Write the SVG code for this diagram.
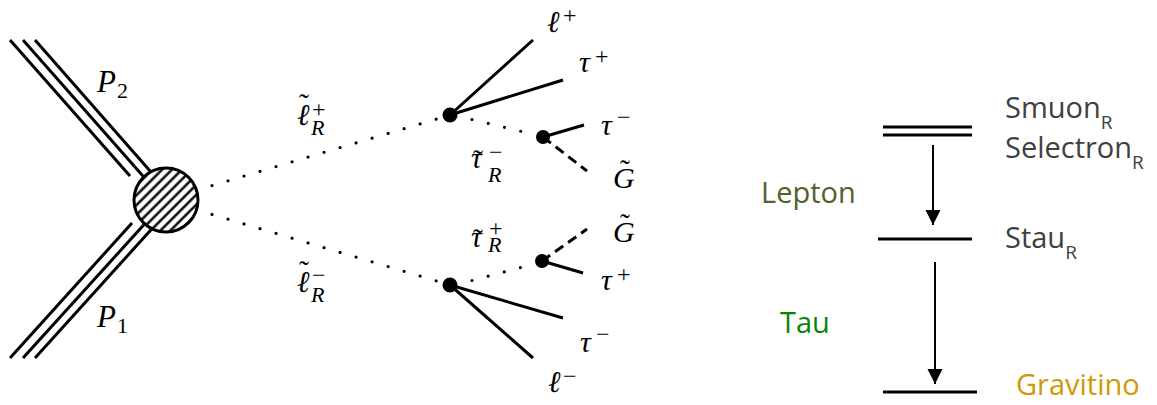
<svg xmlns="http://www.w3.org/2000/svg" width="1157" height="405" viewBox="0 0 1157 405">
<style>
.ln{stroke:#000;stroke-width:3;fill:none;stroke-linecap:butt}
.dot{stroke:#000;stroke-width:3.2;fill:none;stroke-linecap:round;stroke-dasharray:0 16.7}
.dash{stroke:#000;stroke-width:3;fill:none;stroke-dasharray:10 6}
.m{font-family:"Liberation Serif",serif;font-style:italic;font-size:30px;fill:#000}
.sc{font-family:"Liberation Serif",serif;font-size:24px;fill:#000}
.si{font-family:"Liberation Serif",serif;font-style:italic;font-size:22px;fill:#000}
.td{font-family:"Liberation Serif",serif;font-size:30px;fill:#000}
.t{font-family:"Open Sans",sans-serif;font-size:29px;fill:#404040}
.ts{font-family:"Open Sans",sans-serif;font-size:19px;fill:#404040}
.lvl{stroke:#000;stroke-width:3.2}
.arr{stroke:#000;stroke-width:2;fill:none}
</style>
<defs>
<pattern id="hatch" width="7" height="7" patternUnits="userSpaceOnUse" patternTransform="rotate(-45)">
<line x1="0" y1="3.5" x2="7" y2="3.5" stroke="#000" stroke-width="2.4"/>
</pattern>
<marker id="ah" markerUnits="userSpaceOnUse" markerWidth="15" markerHeight="16" refX="15" refY="7.5" orient="auto" viewBox="0 0 15 15">
<path d="M0,0 L15,7.5 L0,15 z" fill="#000"/>
</marker>
</defs>

<g id="connectors">
<line class="ln" x1="10" y1="40" x2="130" y2="176"/>
<line class="ln" x1="23" y1="40" x2="150" y2="184"/>
<line class="ln" x1="35" y1="40" x2="158" y2="180"/>
<line class="ln" x1="10" y1="358" x2="132" y2="223"/>
<line class="ln" x1="23" y1="358" x2="150" y2="218"/>
<line class="ln" x1="35" y1="358" x2="158" y2="222"/>
<line class="dot" x1="212" y1="185.6" x2="440" y2="118"/>
<line class="dot" x1="212" y1="214.4" x2="440" y2="282"/>
<line class="dot" x1="472" y1="119.5" x2="530" y2="133.5"/>
<line class="dot" x1="472" y1="280.5" x2="530" y2="265"/>
<line class="ln" x1="450" y1="115" x2="533" y2="40"/>
<line class="ln" x1="450" y1="115" x2="563" y2="80"/>
<line class="ln" x1="543" y1="137" x2="584" y2="125"/>
<line class="dash" x1="543" y1="137" x2="587" y2="171"/>
<line class="ln" x1="450" y1="285" x2="533" y2="358"/>
<line class="ln" x1="450" y1="285" x2="563" y2="318"/>
<line class="ln" x1="542" y1="261" x2="583" y2="273"/>
<line class="dash" x1="542" y1="261" x2="587" y2="229"/>
<line class="arr" x1="933" y1="145" x2="933" y2="225" marker-end="url(#ah)"/>
<line class="arr" x1="935" y1="262" x2="935" y2="384" marker-end="url(#ah)"/>
</g>

<g id="blob">
<circle cx="166" cy="200" r="32" fill="#fff"/>
<circle cx="166" cy="200" r="32" fill="url(#hatch)" stroke="#000" stroke-width="3"/>
</g>

<g id="vertex-upper"><circle cx="450" cy="115" r="7.5" fill="#000"/></g>
<g id="vertex-lower"><circle cx="450" cy="285" r="7.5" fill="#000"/></g>
<g id="subvertex-upper"><circle cx="543" cy="137" r="7" fill="#000"/></g>
<g id="subvertex-lower"><circle cx="542" cy="261" r="7" fill="#000"/></g>

<g id="label-P2"><text class="m" x="97" y="92" style="font-size:31px">P</text><text class="sc" x="117" y="98" style="font-size:22px">2</text></g>
<g id="label-P1"><text class="m" x="97" y="327" style="font-size:31px">P</text><text class="sc" x="117" y="333" style="font-size:22px">1</text></g>

<g id="label-slepton-plus">
<text class="m" x="297" y="125">ℓ</text><text class="td" x="299" y="114">˜</text>
<text class="sc" x="312" y="117">+</text><text class="si" x="311" y="135">R</text>
</g>
<g id="label-slepton-minus">
<text class="m" x="297" y="292">ℓ</text><text class="td" x="299" y="281">˜</text>
<text class="sc" x="312" y="283">−</text><text class="si" x="311" y="302">R</text>
</g>
<g id="label-stau-minus">
<text class="m" x="471" y="168">τ</text><text class="td" x="473" y="170">˜</text>
<text class="sc" x="489" y="160">−</text><text class="si" x="488" y="182">R</text>
</g>
<g id="label-stau-plus">
<text class="m" x="471" y="247">τ</text><text class="td" x="473" y="249">˜</text>
<text class="sc" x="489" y="236">+</text><text class="si" x="488" y="252">R</text>
</g>

<g id="label-lplus"><text class="m" x="547" y="32">ℓ</text><text class="sc" x="563" y="23">+</text></g>
<g id="label-tauplus-upper"><text class="m" x="579" y="72">τ</text><text class="sc" x="595" y="64">+</text></g>
<g id="label-tauminus-upper"><text class="m" x="601" y="135">τ</text><text class="sc" x="617" y="125">−</text></g>
<g id="label-G-upper"><text class="m" x="613" y="188">G</text><text class="td" x="620" y="180">˜</text></g>

<g id="label-G-lower"><text class="m" x="613" y="242">G</text><text class="td" x="620" y="234">˜</text></g>
<g id="label-tauplus-lower"><text class="m" x="601" y="290">τ</text><text class="sc" x="617" y="282">+</text></g>
<g id="label-tauminus-lower"><text class="m" x="580" y="352">τ</text><text class="sc" x="596" y="342">−</text></g>
<g id="label-lminus"><text class="m" x="548" y="392">ℓ</text><text class="sc" x="563" y="384">−</text></g>

<g id="level-slepton">
<line class="lvl" x1="883" y1="127" x2="972" y2="127"/>
<line class="lvl" x1="883" y1="135" x2="972" y2="135"/>
<text class="t" x="1005" y="118">Smuon<tspan class="ts" dy="11">R</tspan></text>
<text class="t" x="1005" y="158">Selectron<tspan class="ts" dy="11">R</tspan></text>
</g>
<g id="level-stau">
<line class="lvl" x1="878" y1="239" x2="972" y2="239"/>
<text class="t" x="1005" y="248">Stau<tspan class="ts" dy="11">R</tspan></text>
</g>
<g id="level-gravitino">
<line class="lvl" x1="883" y1="392" x2="977" y2="392"/>
<text class="t" x="1016" y="395" style="fill:#cc9a06">Gravitino</text>
</g>
<g id="label-lepton"><text class="t" x="761" y="203" style="fill:#4f6228">Lepton</text></g>
<g id="label-tau"><text class="t" x="780" y="333" style="fill:#0a850a">Tau</text></g>
</svg>
